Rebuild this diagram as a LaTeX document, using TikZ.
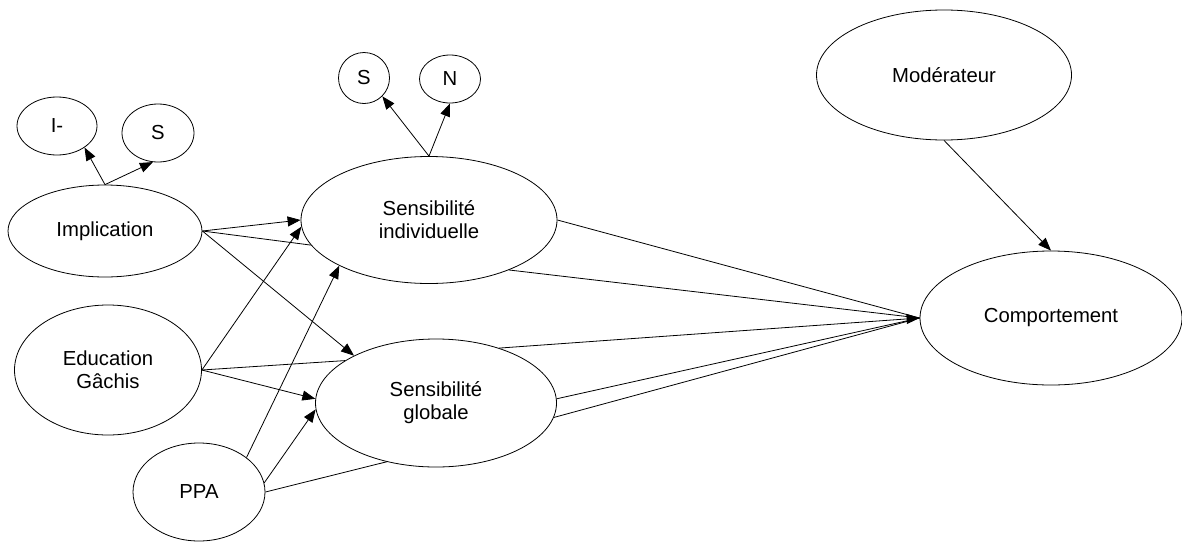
\documentclass[tikz,border=0pt]{standalone}
\usepackage{fontspec}
\setmainfont{Liberation Sans}
\usetikzlibrary{
    arrows.meta,
    shapes.geometric
}
\tikzset{
    var/.style={ellipse, draw, inner sep=0pt, align=center, font=\fontsize{20.3}{23}\selectfont},
    link/.style={-{Triangle[length=13pt,width=10pt]}}
}

\begin{document}
\begin{tikzpicture}[x=1pt,y=-1pt,line width=0.8pt]
        \useasboundingbox (0,0) rectangle (1182,541);
        \begin{scope}[shift={(0,0)}]
            % variables
            \draw (57,126)   node[var,minimum width=80pt, minimum height=58pt ](imn){I-};
            \draw (158,133)  node[var,minimum width=72pt, minimum height=58pt ](ims){S};
            \draw (105,231)  node[var,minimum width=194pt,minimum height=92pt ](impl){Implication};
            \draw (108,370)  node[var,minimum width=187pt,minimum height=130pt](edu){Education\\Gâchis};
            \draw (199,492)  node[var,minimum width=132pt,minimum height=98pt ](ppa){PPA};
            \draw (364,78)   node[var,minimum width=51pt, minimum height=51pt ](sis){S};
            \draw (450,79)   node[var,minimum width=61pt, minimum height=48pt ](sin){N};
            \draw (429,220)  node[var,minimum width=256pt,minimum height=127pt](si){Sensibilité\\individuelle};
            \draw (436,403)  node[var,minimum width=241pt,minimum height=128pt](sg){Sensibilité\\globale};
            \draw (944,75)   node[var,minimum width=255pt,minimum height=130pt](mod){Modérateur};
            \draw (1051,318) node[var,minimum width=262pt,minimum height=134pt](comp){Comportement};

            % indicateurs
            \draw[link] (impl.north) to (imn.-38);
            \draw[link] (impl.north) to (ims.-100);
            \draw[link] (si.north) to (sis.-45);
            \draw[link] (si.north) to (sin.south);

            \draw[link] (impl.east) to (si.west);
            \draw       (impl.east) to (si.192);
            \draw[link] (impl.east) to (sg.150);
            \draw[link] (edu.east) to (si.183);
            \draw       (edu.east) to (sg.155);
            \draw[link] (edu.east) to (sg.178);
            \draw[link] (ppa.36) to (si.207);
            \draw[link] (ppa.8) to (sg.183);
            \draw       (ppa.east) to (sg.230);

            \draw       (si.east) to (comp.west);
            \draw       (si.-32) to (comp.west);
            \draw[link] (sg.41) to (comp.west);
            \draw       (sg.2) to (comp.west);
            \draw       (sg.-7) to (comp.west);
            \draw[link] (mod.south) to (comp.north);
        \end{scope}
    \end{tikzpicture}
\end{document}
